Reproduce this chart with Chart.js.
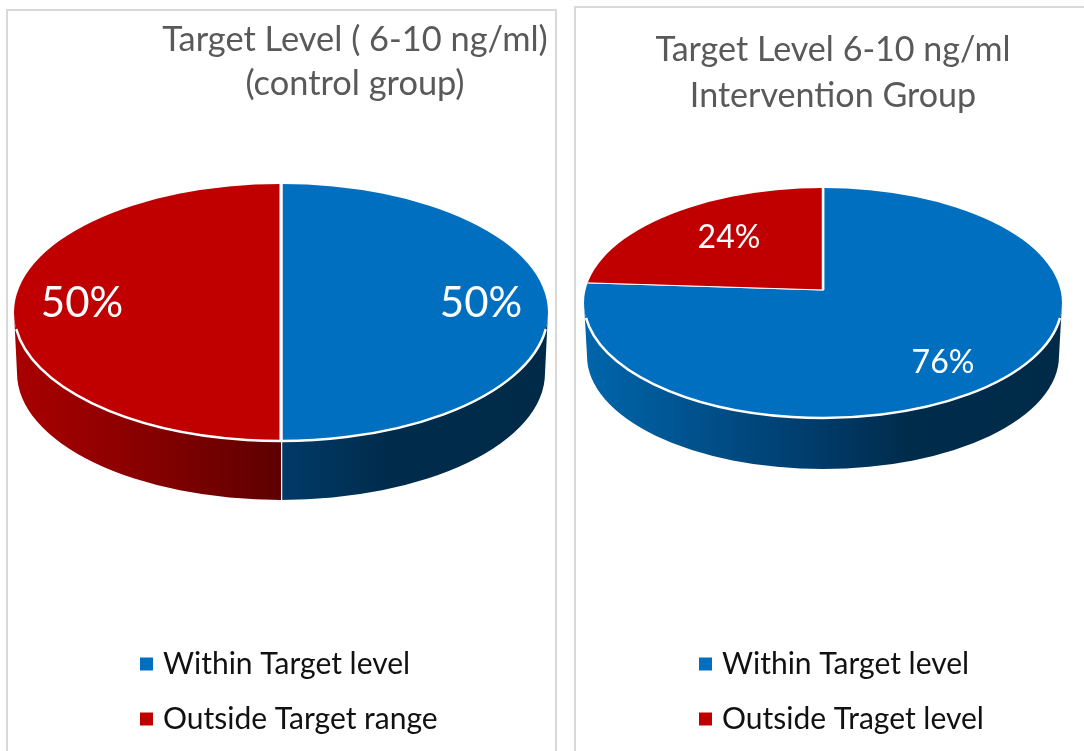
<!DOCTYPE html>
<html>
<head>
<meta charset="utf-8" />
<title>Target Level</title>
<script src="https://cdn.jsdelivr.net/npm/chart.js@4"></script>
<style>
  html, body { margin: 0; padding: 0; background: #fff; overflow: hidden; }
  body { width: 1084px; height: 751px; position: relative; }
  .panel { position: absolute; box-sizing: border-box; border: 2px solid #d9d9d9; border-bottom: 0; }
  #panelLeft { left: 6px; top: 9px; width: 551px; height: 742px; }
  #panelRight { left: 574px; top: 6px; width: 520px; height: 745px; }
  canvas { position: absolute; top: 0; }
</style>
</head>
<body>
<div class="panel" id="panelLeft"></div>
<div class="panel" id="panelRight"></div>
<canvas id="controlChart" width="565" height="751" style="left:0"></canvas>
<canvas id="interventionChart" width="519" height="751" style="left:565px"></canvas>

<script>
const controlTitle = ["Target Level ( 6-10 ng/ml)", "(control group)"];
const controlLabels = ["Within Target level", "Outside Target range"];
const controlValues = [50, 50];

const interventionTitle = ["Target Level 6-10 ng/ml", "Intervention Group"];
const interventionLabels = ["Within Target level", "Outside Traget level"];
const interventionValues = [76, 24];

const sliceColors = ["#006fc0", "#c00000"];
const fontFamily = "Lato, Carlito, sans-serif";

// fakes the tilted 3D pie: walls first, then the library's arcs squashed into an ellipse
const tiltedPie = {
  id: "tiltedPie",
  afterLayout(chart, args, opts) {
    const title = chart.titleBlock;
    title.left = opts.titleX - 400;
    title.right = opts.titleX + 400;
    title.top = opts.titleTop;

    // the box stops at the canvas edge, too narrow for both items, so they stack in two rows
    const legend = chart.legend;
    legend.left = opts.legendX;
    legend.right = chart.width;
    legend.top = opts.legendTop;
    legend.bottom = chart.height;
  },
  beforeDatasetsDraw(chart, args, opts) {
    const ctx = chart.ctx;
    const arcs = chart.getDatasetMeta(0).data;
    const { top, bottom } = opts;

    arcs.forEach((arc, i) => {
      const a0 = Math.max(arc.startAngle, 0);
      const a1 = Math.min(arc.endAngle, Math.PI);
      if (a1 <= a0) return;
      const x0 = bottom.cx + Math.cos(a1) * bottom.rx;
      const x1 = bottom.cx + Math.cos(a0) * bottom.rx;
      const grad = ctx.createLinearGradient(x0, 0, x1, 0);
      opts.wallStops[i].forEach(([at, color]) => grad.addColorStop(at, color));

      ctx.beginPath();
      ctx.ellipse(bottom.cx, bottom.cy, bottom.rx, bottom.ry, 0, a0, a1);
      ctx.ellipse(top.cx, top.cy, top.rx, top.ry, 0, a1, a0, true);
      ctx.closePath();
      ctx.fillStyle = grad;
      ctx.fill();

      // white seam where a slice edge runs down the wall
      if (arc.endAngle > 0 && arc.endAngle < Math.PI) {
        ctx.beginPath();
        ctx.moveTo(top.cx + Math.cos(a1) * top.rx, top.cy + Math.sin(a1) * top.ry);
        ctx.lineTo(bottom.cx + Math.cos(a1) * bottom.rx, bottom.cy + Math.sin(a1) * bottom.ry);
        ctx.strokeStyle = "#fff";
        ctx.lineWidth = 2.5;
        ctx.stroke();
      }
    });

    ctx.save();
    ctx.beginPath();
    ctx.ellipse(top.cx, top.cy, top.rx, top.ry, 0, 0, Math.PI * 2);
    ctx.clip();
    const arc = arcs[0];
    ctx.translate(top.cx, opts.apexY);
    ctx.scale((opts.grow * top.rx) / arc.outerRadius, (opts.grow * top.ry) / arc.outerRadius);
    ctx.translate(-arc.x, -arc.y);
  },
  afterDatasetsDraw(chart, args, opts) {
    const ctx = chart.ctx;
    const { top } = opts;
    ctx.restore();

    // white rim only along the front edge
    ctx.beginPath();
    ctx.ellipse(top.cx, top.cy, top.rx, top.ry, 0, 0.13, Math.PI - 0.13);
    ctx.strokeStyle = "#fff";
    ctx.lineWidth = 2.5;
    ctx.stroke();

    ctx.fillStyle = "#fff";
    ctx.textAlign = "center";
    ctx.textBaseline = "middle";
    chart.data.datasets[0].data.forEach((value, i) => {
      const [x, y, size] = opts.percentAt[i];
      ctx.font = size + "px " + fontFamily;
      ctx.fillText(value + "%", x, y);
    });
  },
};

function makeChart(id, title, labels, values, geo) {
  const ctx = document.getElementById(id).getContext("2d");
  return new Chart(ctx, {
    type: "pie",
    data: {
      labels: labels,
      datasets: [
        {
          data: values,
          backgroundColor: sliceColors,
          borderColor: "#fff",
          borderWidth: geo.seam,
          clip: false,
        },
      ],
    },
    options: {
      responsive: false,
      animation: false,
      events: [],
      plugins: {
        title: {
          display: true,
          text: title,
          color: "#595959",
          padding: 0,
          font: { family: fontFamily, size: geo.titleSize, weight: "normal", lineHeight: geo.titleGap },
        },
        legend: {
          position: "bottom",
          align: "start",
          labels: {
            color: "#111",
            usePointStyle: true,
            pointStyle: "rect",
            boxWidth: 3, // narrow box pulls the text closer to the marker
            boxHeight: 13,
            padding: 25,
            font: { family: fontFamily, size: 30 },
            generateLabels(c) {
              const items = Chart.overrides.pie.plugins.legend.labels.generateLabels(c);
              return items.map((item) => ({ ...item, lineWidth: 0 }));
            },
          },
        },
        tooltip: { enabled: false },
        tiltedPie: geo,
      },
    },
    plugins: [tiltedPie],
  });
}

makeChart("controlChart", controlTitle, controlLabels, controlValues, {
  titleX: 355,
  titleTop: 18,
  titleSize: 34.4,
  titleGap: "44px",
  legendX: 120,
  legendTop: 624,
  seam: 2.8,
  grow: 1.1,
  apexY: 312.5,
  top: { cx: 281, cy: 312.5, rx: 267, ry: 128.5 },
  bottom: { cx: 281, cy: 373, rx: 264, ry: 127 },
  percentAt: [
    [481, 303, 42],
    [82, 303, 42],
  ],
  wallStops: [
    [[0, "#003a68"], [0.4, "#002c4c"], [1, "#002a47"]],
    [[0, "#a80000"], [0.45, "#8a0000"], [1, "#5e0000"]],
  ],
});

makeChart("interventionChart", interventionTitle, interventionLabels, interventionValues, {
  titleX: 268,
  titleTop: 27,
  titleSize: 34.1,
  titleGap: "46px",
  legendX: 114,
  legendTop: 624,
  seam: 1.8,
  grow: 1.5,
  apexY: 290,
  top: { cx: 258, cy: 303, rx: 239, ry: 115 },
  bottom: { cx: 258, cy: 356, rx: 236, ry: 113 },
  percentAt: [
    [378, 363, 32],
    [164, 238, 32],
  ],
  wallStops: [
    [[0, "#0065ab"], [0.5, "#003a68"], [0.68, "#002c4c"], [1, "#002a47"]],
    [[0, "#a80000"], [1, "#5e0000"]],
  ],
});
</script>
</body>
</html>
